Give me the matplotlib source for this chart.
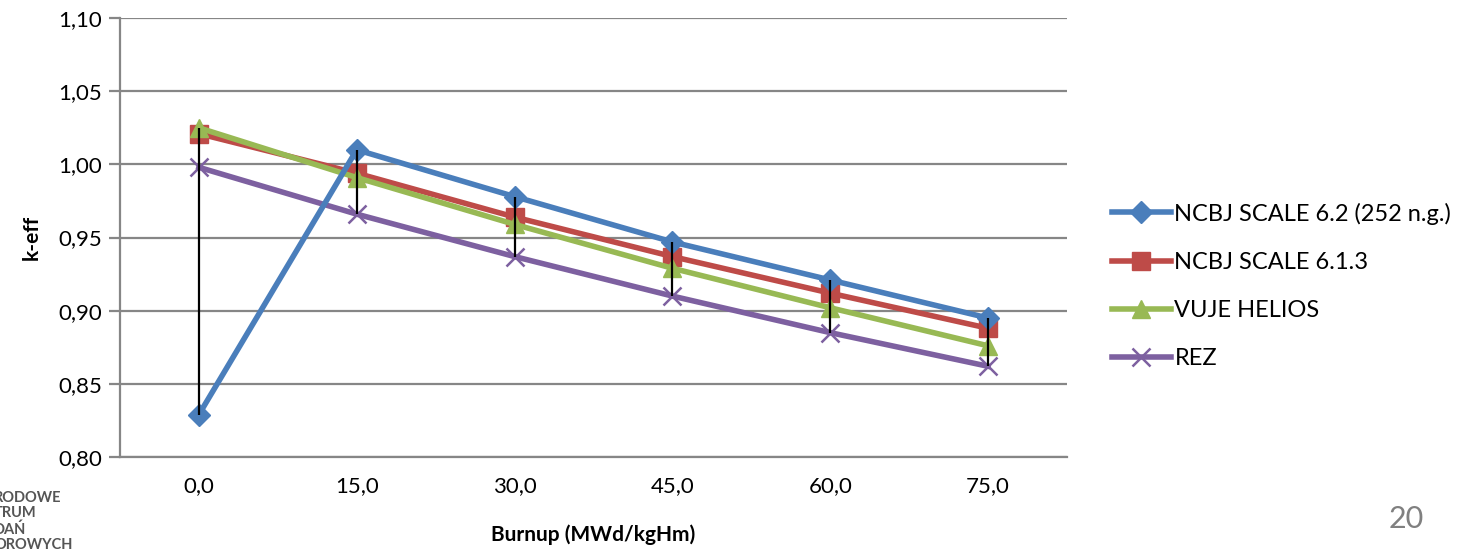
import matplotlib
matplotlib.use("Agg")
import matplotlib.pyplot as plt
import numpy as np

plt.rcParams['font.family'] = ['Lato', 'DejaVu Sans']

# dane
burnup = ["0,0", "15,0", "30,0", "45,0", "60,0", "75,0"]
ncbj_62 = [0.829, 1.010, 0.978, 0.947, 0.921, 0.895]
ncbj_613 = [1.021, 0.994, 0.964, 0.937, 0.912, 0.888]
vuje_helios = [1.025, 0.991, 0.959, 0.929, 0.902, 0.876]
rez = [0.998, 0.966, 0.937, 0.910, 0.885, 0.862]
y_ticks = [0.80, 0.85, 0.90, 0.95, 1.00, 1.05, 1.10]

fig = plt.figure(figsize=(14.6, 5.49), dpi=100)
ax = fig.add_axes([0.0822, 0.1676, 0.6486, 0.7994])

x = np.arange(len(burnup))
grid_c = "#868686"

# linie max-min
allv = np.array([ncbj_62, ncbj_613, vuje_helios, rez])
ax.vlines(x, allv.min(axis=0), allv.max(axis=0), color="black", lw=1.6, zorder=5)

ax.plot(x, ncbj_62, color="#4a7ebb", lw=4, marker="D", ms=11, label="NCBJ SCALE 6.2 (252 n.g.)", zorder=4)
ax.plot(x, ncbj_613, color="#be4b48", lw=4, marker="s", ms=13, label="NCBJ SCALE 6.1.3", zorder=3)
ax.plot(x, vuje_helios, color="#98b954", lw=4, marker="^", ms=13, label="VUJE HELIOS", zorder=3)
ax.plot(x, rez, color="#7d60a0", lw=4, marker="x", ms=13, mew=1.8, label="REZ", zorder=3)

ax.set_xlim(-0.5, len(burnup) - 0.5)
ax.set_ylim(0.80, 1.10)
ax.set_xticks(x)
ax.set_xticklabels(burnup, fontsize=16)
ax.set_yticks(y_ticks)
ax.set_yticklabels([f"{v:.2f}".replace(".", ",") for v in y_ticks], fontsize=16)
ax.tick_params(axis="x", length=0, pad=14)
ax.tick_params(axis="y", length=8, width=1.6, color=grid_c, pad=5)
ax.yaxis.grid(True, color=grid_c, lw=1.6)
ax.set_axisbelow(True)
for s in ["top", "right"]:
    ax.spines[s].set_visible(False)
for s in ["left", "bottom"]:
    ax.spines[s].set_color(grid_c)
    ax.spines[s].set_linewidth(1.6)

ax.set_xlabel("Burnup (MWd/kgHm)", fontsize=15, fontweight="bold", labelpad=20)
ax.set_ylabel("k-eff", fontsize=15, fontweight="bold", labelpad=12)

ax.legend(loc="center left", bbox_to_anchor=(1.025, 0.39), frameon=False, fontsize=17,
          handlelength=2.5, handletextpad=0.15, labelspacing=1.15)

# logo i numer strony
fig.text(-0.004, 0.05, "RODOWE\nTRUM\nDAŃ\nOROWYCH", fontsize=10.5, fontweight="bold",
         color="#555555", va="center", ha="left", linespacing=1.15)
fig.text(0.963, 0.055, "20", fontsize=22, color="#808080", ha="center", va="center")

fig.savefig("out.png", dpi=100)
